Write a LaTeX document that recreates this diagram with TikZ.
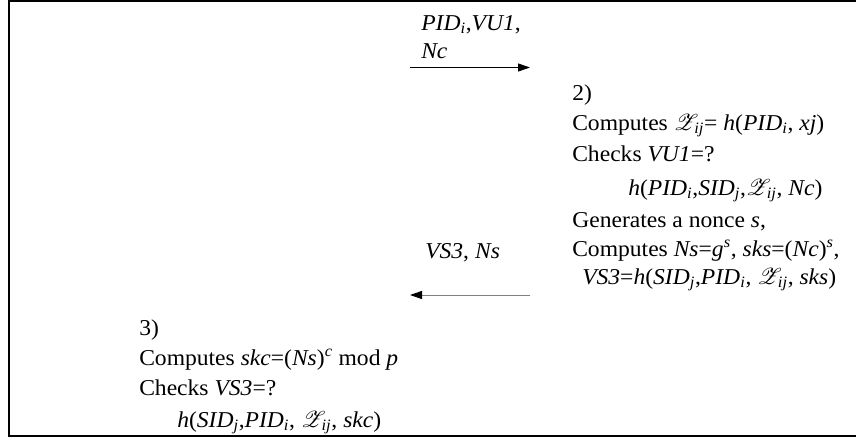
\documentclass[tikz,border=0pt]{standalone}
\usepackage{fontspec}
\usepackage{mathrsfs}
\setmainfont{Liberation Serif}[FakeStretch=1.04]
\usetikzlibrary{arrows.meta}
% italic subscripts / superscripts and the script Z
\newcommand{\isub}[1]{\textsubscript{\textit{#1}}}
\newcommand{\isup}[1]{\textsuperscript{\textit{#1}}}
\newcommand{\Zij}{$\mathscr{Z}\!$\isub{ij}}
\tikzset{
  txt/.style={anchor=base west, inner sep=0pt, font=\fontsize{17pt}{20pt}\selectfont},
  msg/.style={line width=0.75pt, -{Triangle[length=9pt,width=6pt,color=black]}},
  frame/.style={line width=1.5pt}
}
\begin{document}
\begin{tikzpicture}[x=0.75pt,y=-0.75pt]
\useasboundingbox (0,0) rectangle (856,439);
% open frame: top, left and bottom sides
\coordinate (ftr) at (856,1);
\coordinate (ftl) at (8.5,1);
\coordinate (fbl) at (8.5,436);
\coordinate (fbr) at (856,436);
\draw[frame] (ftr) -- (ftl) -- (fbl) -- (fbr);

% message 1
\node[txt] (m1a) at (421,30) {\textit{PID}\isub{i},\textit{VU1},};
\node[txt] (m1b) at (421,58) {\textit{Nc}};
\coordinate (a1s) at (410,67.5);
\coordinate (a1e) at (530,67.5);
\draw[msg] (a1s) -- (a1e);

% step 2
\node[txt] (s2a) at (572,100) {2)};
\node[txt] (s2b) at (572,130) {Computes \Zij= \textit{h}(\textit{PID}\isub{i}, \textit{xj})};
\node[txt] (s2c) at (572,161) {Checks \textit{VU1}=?};
\node[txt] (s2d) at (628,195) {\textit{h}(\textit{PID}\isub{i},\textit{SID}\isub{j},\Zij, \textit{Nc})};
\node[txt] (s2e) at (572,227) {Generates a nonce \textit{s},};
\node[txt] (s2f) at (572,256) {Computes \textit{Ns}=\textit{g}\isup{s}, \textit{sks}=(\textit{Nc})\isup{s},};
\node[txt] (s2g) at (582,284) {\textit{VS3}=\textit{h}(\textit{SID}\isub{j},\textit{PID}\isub{i}, \Zij, \textit{sks})};

% message 2
\node[txt] (m2) at (425,258) {\textit{VS3}, \textit{Ns}};
\coordinate (a2s) at (530,295);
\coordinate (a2e) at (410,295);
\draw[msg, draw=black!50] (a2s) -- (a2e);

% step 3
\node[txt] (s3a) at (139,335) {3)};
\node[txt] (s3b) at (139,365) {Computes \textit{skc}=(\textit{Ns})\isup{c} mod \textit{p}};
\node[txt] (s3c) at (139,395) {Checks \textit{VS3}=?};
\node[txt] (s3d) at (177,427) {\textit{h}(\textit{SID}\isub{j},\textit{PID}\isub{i}, \Zij, \textit{skc})};
\end{tikzpicture}
\end{document}
